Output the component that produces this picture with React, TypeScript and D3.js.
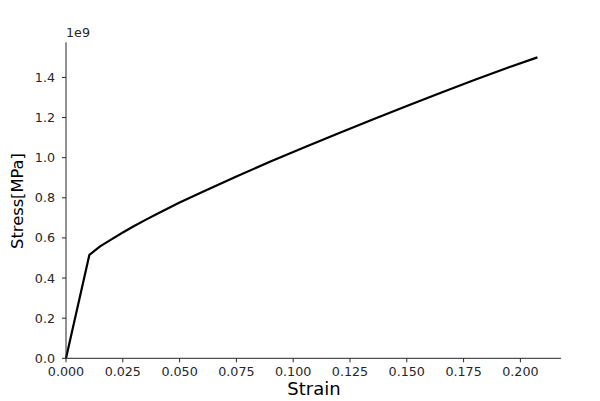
import React from "react";
import * as d3 from "d3";

const strain = [0, 0.0103, 0.015, 0.02, 0.025, 0.03, 0.035, 0.04, 0.05, 0.06, 0.075, 0.09, 0.105, 0.12, 0.135, 0.15, 0.165, 0.18, 0.195, 0.2075];
const stress = [0, 0.516e9, 0.558e9, 0.593e9, 0.627e9, 0.659e9, 0.69e9, 0.719e9, 0.776e9, 0.829e9, 0.906e9, 0.981e9, 1.052e9, 1.122e9, 1.19e9, 1.258e9, 1.324e9, 1.388e9, 1.451e9, 1.5e9];
const xTicks = [0, 0.025, 0.05, 0.075, 0.1, 0.125, 0.15, 0.175, 0.2];
const yTicks = [0, 0.2e9, 0.4e9, 0.6e9, 0.8e9, 1.0e9, 1.2e9, 1.4e9];

export default function App() {
  const W = 600, H = 401;
  const left = 66, right = 561, top = 42.3, bottom = 358.3;
  const x = d3.scaleLinear().domain([0, 0.21788]).range([left, right]);
  const y = d3.scaleLinear().domain([0, 1.575e9]).range([bottom, top]);
  const pts: [number, number][] = strain.map((s, i) => [s, stress[i]]);
  const line = d3.line<[number, number]>().x(d => x(d[0])).y(d => y(d[1]));
  const font = "DejaVu Sans, sans-serif";
  const col = "#262626";
  return (
    <svg width={W} height={H} style={{ position: "absolute", left: 0, top: 0, background: "#fff" }}>
      <path d={line(pts) || ""} fill="none" stroke="#000" strokeWidth={2.2} strokeLinejoin="round" />
      <line x1={left} x2={left} y1={top} y2={bottom} stroke={col} strokeWidth={1} />
      <line x1={left} x2={right} y1={bottom} y2={bottom} stroke={col} strokeWidth={1} />
      {xTicks.map(t => (
        <g key={"x" + t}>
          <line x1={x(t)} x2={x(t)} y1={bottom} y2={bottom + 4} stroke={col} strokeWidth={1} />
          <text x={x(t)} y={bottom + 17.5} textAnchor="middle" fontFamily={font} fontSize={12.7} fill={col}>{t.toFixed(3)}</text>
        </g>
      ))}
      {yTicks.map(t => (
        <g key={"y" + t}>
          <line x1={left - 4} x2={left} y1={y(t)} y2={y(t)} stroke={col} strokeWidth={1} />
          <text x={left - 11} y={y(t)} dy="0.36em" textAnchor="end" fontFamily={font} fontSize={12.7} fill={col}>{(t / 1e9).toFixed(1)}</text>
        </g>
      ))}
      <text x={left} y={top - 5} fontFamily={font} fontSize={12.7} fill={col}>1e9</text>
      <text x={(left + right) / 2 + 0.5} y={395} textAnchor="middle" fontFamily={font} fontSize={18} fill="#000">Strain</text>
      <text transform={`translate(23,${201}) rotate(-90)`} textAnchor="middle" fontFamily={font} fontSize={16.3} fill="#000">Stress[MPa]</text>
    </svg>
  );
}
